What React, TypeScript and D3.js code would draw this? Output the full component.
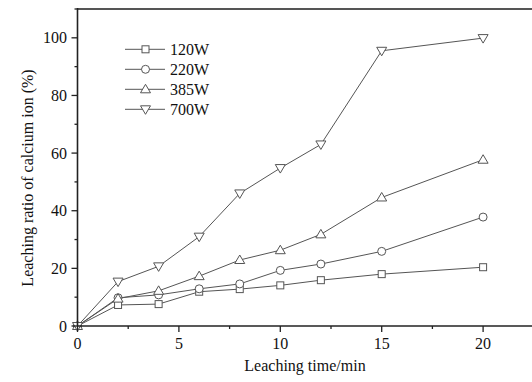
import React from "react";
import * as d3 from "d3";

const times = [0, 2, 4, 6, 8, 10, 12, 15, 20];
const s120 = [0, 7.3, 7.6, 11.9, 12.8, 14.1, 15.9, 18.0, 20.4];
const s220 = [0, 9.8, 10.8, 12.9, 14.6, 19.3, 21.5, 25.9, 37.8];
const s385 = [0, 9.5, 12.2, 17.3, 22.9, 26.3, 31.8, 44.6, 57.7];
const s700 = [0, 15.4, 20.7, 31.0, 46.0, 54.8, 63.0, 95.5, 99.9];
const seriesNames = ["120W", "220W", "385W", "700W"];
const seriesMarkers = ["square", "circle", "triangle", "triangleDown"];
const xTicks = [0, 5, 10, 15, 20];
const xMinor = [2.5, 7.5, 12.5, 17.5, 22.5];
const yTicks = [0, 20, 40, 60, 80, 100];
const yMinor = [10, 30, 50, 70, 90, 110];

const W = 532;
const H = 382;
const FONT = "'Liberation Serif', 'Times New Roman', serif";
const C = "#555";

function Marker({ type, x, y }: { type: string; x: number; y: number }) {
  const common = { fill: "white", stroke: C, strokeWidth: 1 };
  if (type === "square") return <rect x={x - 3.5} y={y - 3.5} width={7} height={7} {...common} />;
  if (type === "circle") return <circle cx={x} cy={y} r={4} {...common} />;
  if (type === "triangle")
    return <path d={`M${x},${y - 5}L${x + 5},${y + 3.5}L${x - 5},${y + 3.5}Z`} {...common} />;
  return <path d={`M${x},${y + 5}L${x + 5},${y - 3.5}L${x - 5},${y - 3.5}Z`} {...common} />;
}

export default function App() {
  const x = d3.scaleLinear().domain([0, 22.5]).range([77.5, 533.8]);
  const y = d3.scaleLinear().domain([0, 110]).range([326, 9]);
  const data = [s120, s220, s385, s700];
  const line = d3
    .line<number>()
    .x((_, i) => x(times[i]))
    .y((d) => y(d));
  const x0 = x(0);
  const y0 = y(0);
  return (
    <svg width={W} height={H} style={{ position: "absolute", left: 0, top: 0, background: "white" }} fontFamily={FONT}>
      <rect width={W} height={H} fill="white" />
      {/* top border */}
      <line x1={x0} x2={W} y1={y(110)} y2={y(110)} stroke={C} strokeWidth={2} />
      {/* series */}
      {data.map((s, si) => (
        <g key={si}>
          <path d={line(s) || ""} fill="none" stroke={C} strokeWidth={1} />
          {s.map((v, i) => (
            <Marker key={i} type={seriesMarkers[si]} x={x(times[i])} y={y(v)} />
          ))}
        </g>
      ))}
      {/* axes */}
      <line x1={x0} x2={x0} y1={y(110) - 1} y2={y0} stroke="#222" strokeWidth={1.6} />
      <line x1={x0} x2={W} y1={y0} y2={y0} stroke="#222" strokeWidth={1.6} />
      {xTicks.map((t) => (
        <g key={t}>
          <line x1={x(t)} x2={x(t)} y1={y0} y2={y0 + 6} stroke="#222" strokeWidth={1.3} />
          <text x={x(t)} y={349} textAnchor="middle" fontSize={16} fill="#111">
            {t}
          </text>
        </g>
      ))}
      {xMinor.map((t) => (
        <line key={t} x1={x(t)} x2={x(t)} y1={y0} y2={y0 + 3} stroke="#222" strokeWidth={1.3} />
      ))}
      {yTicks.map((t) => (
        <g key={t}>
          <line x1={x0 - 6} x2={x0} y1={y(t)} y2={y(t)} stroke="#222" strokeWidth={1.3} />
          <text x={67} y={y(t) + 5.5} textAnchor="end" fontSize={16} fill="#111">
            {t}
          </text>
        </g>
      ))}
      {yMinor.map((t) => (
        <line key={t} x1={x0 - 3} x2={x0} y1={y(t)} y2={y(t)} stroke="#222" strokeWidth={1.3} />
      ))}
      <text x={305} y={371} textAnchor="middle" fontSize={16} fill="#111">
        Leaching time/min
      </text>
      <text
        transform={`translate(33,${178}) rotate(-90)`}
        textAnchor="middle"
        fontSize={16}
        fill="#111"
      >
        Leaching ratio of calcium ion (%)
      </text>
      {/* legend */}
      {seriesNames.map((n, i) => {
        const ly = 49.3 + i * 20;
        return (
          <g key={n}>
            <line x1={125} x2={165} y1={ly} y2={ly} stroke={C} strokeWidth={1} />
            <Marker type={seriesMarkers[i]} x={145.5} y={ly} />
            <text x={170} y={ly + 5.5} fontSize={16} fill="#111">
              {n}
            </text>
          </g>
        );
      })}
    </svg>
  );
}
